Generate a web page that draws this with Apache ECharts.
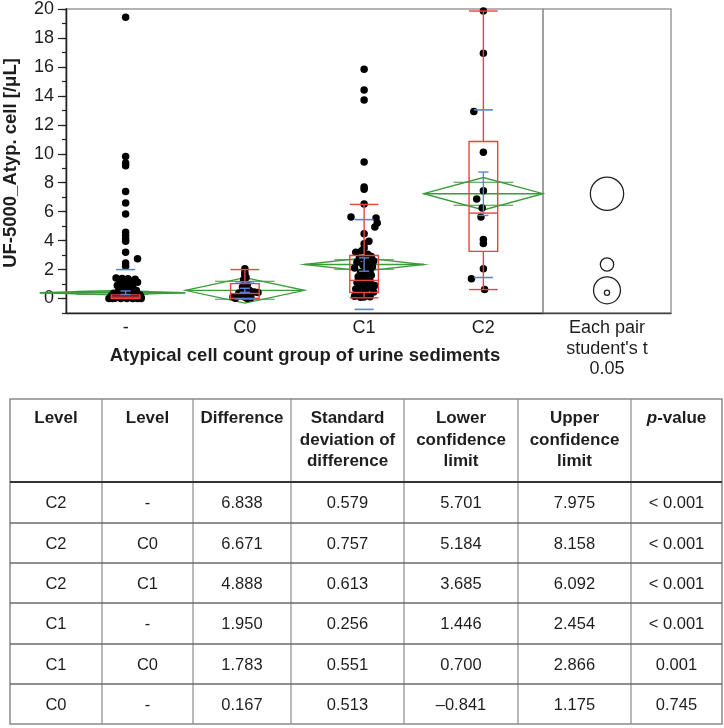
<!DOCTYPE html>
<html><head><meta charset="utf-8">
<script src="https://cdn.jsdelivr.net/npm/echarts@6/dist/echarts.min.js"></script>
<style>html,body{margin:0;padding:0;background:#fff}#c{width:724px;height:728px}</style>
</head><body><div id="c"></div>
<script>
// ---------- data ----------
const groups = ['-', 'C0', 'C1', 'C2'];
const yTickLabels = [0, 2, 4, 6, 8, 10, 12, 14, 16, 18, 20];

// individual observations (value) and horizontal jitter (category units)
const valsDash = [19.43, 9.81, 9.36, 9.17, 7.4, 6.6, 5.84, 4.57, 4.34, 4.11, 3.95, 3.19, 2.74, 2.46, 2.23,
  1.42, 1.38, 1.36, 1.33, 1.28, 1.2, 1.12, 1.05, 0.98, 0.9, 0.85, 0.78, 0.7, 0.62, 0.55, 0.5, 0.45, 0.4,
  0.36, 0.32, 0.28, 0.25, 0.2, 0.18, 0.15, 0.12, 0.1, 0.08, 0.05, 0.05, 0.02, 0, 0, 0, 0, 0, 0, 0];
const jitDash = [0, 0, 0, 0, 0, 0, 0, 0, 0, 0, 0, 0, 0.10, 0, 0,
  -0.08, -0.03, 0.02, 0.08, -0.05, 0.05, 0.10, -0.02, 0.03, -0.07, 0.0, 0.06, -0.03, 0.02, 0.09, -0.06, 0.0, 0.04,
  -0.10, 0.07, -0.02, 0.12, -0.12, 0.03, -0.06, 0.09, -0.02, 0.13, -0.13, 0.05, -0.09, 0.10, -0.04, 0.01, 0.06, -0.11, 0.13, -0.14];
const valsC0 = [2.05, 1.8, 1.6, 1.45, 1.3, 1.1, 0.95, 0.8, 0.65, 0.55, 0.45, 0.42, 0.38, 0.3, 0.2, 0.12, 0.08, 0.05, 0.02, 0];
const jitC0  = [0, 0, 0, 0.01, -0.01, 0, 0.02, -0.02, 0, 0.04, 0.08, 0.11, -0.05, 0.02, -0.03, -0.10, 0.0, 0.05, -0.08, 0.02];
const valsC1 = [15.84, 14.41, 13.72, 9.43, 7.7, 7.55, 6.53, 5.63, 5.56, 5.22, 4.94, 4.48, 3.95, 3.79, 3.49,
  3.3, 3.19, 3.05, 2.9, 2.8, 2.7, 2.6, 2.5, 2.42, 2.3, 2.2, 2.1, 2.0, 1.9, 1.8, 1.7, 1.6, 1.5, 1.4, 1.3, 1.2,
  1.1, 1.0, 0.9, 0.85, 0.75, 0.65, 0.55, 0.45, 0.35, 0.25, 0.15, 0.12, 0.1, 0.08];
const jitC1  = [0, 0, 0, 0, 0, 0, 0, -0.11, 0.10, 0.11, 0.09, 0, 0.04, 0, 0,
  -0.02, -0.07, 0.03, 0.06, -0.04, 0.01, 0.08, -0.06, 0.03, -0.01, 0.07, -0.08, 0.02, 0.05, -0.03, 0.0, 0.06, -0.05, 0.03, -0.01, 0.05,
  -0.06, 0.02, 0.09, -0.03, 0.06, -0.07, 0.01, 0.08, -0.04, 0.03, -0.08, 0.05, 0.0, -0.03];
const valsC2 = [19.86, 16.94, 12.92, 10.11, 7.45, 6.88, 6.26, 5.63, 4.07, 3.8, 2.05, 1.36, 0.62];
const jitC2  = [0, 0, -0.08, 0, 0, -0.056, -0.01, -0.02, 0, 0, 0, -0.10, 0.01];

// outlier box plot summaries
const boxQ1  = [0, 0, 0.42, 3.26];
const boxMed = [0.1, 0.35, 1.25, 5.9];
const boxQ3  = [0.25, 1.03, 2.97, 10.85];
const whiskLo = [0, 0, 0.05, 0.62];
const whiskHi = [0.25, 2.0, 6.5, 19.86];

// means, 95% CI half-width (mean diamonds / comparison circles), SD, SE
const means = [0.40, 0.567, 2.35, 7.238];
const ciHalf = [0.15, 0.88, 0.46, 1.12];
const circleR = [0.18, 0.93, 0.46, 1.15];
const diamondFrom = [-0.22, 1, 2, 3];
const diamondTo = [1, 2, 3, 4];
const sdHi = [2.0, 1.15, 5.45, 13.03];
const sdLo = [-1.2, -0.02, -0.75, 1.45];
const seHalf = [0.12, 0.14, 0.46, 1.5];

// table
const tHeader = [['Level'], ['Level'], ['Difference'], ['Standard', 'deviation of', 'difference'],
  ['Lower', 'confidence', 'limit'], ['Upper', 'confidence', 'limit'], ['{i|p}-value']];
const tLevel1 = ['C2', 'C2', 'C2', 'C1', 'C1', 'C0'];
const tLevel2 = ['-', 'C0', 'C1', '-', 'C0', '-'];
const tDiff = ['6.838', '6.671', '4.888', '1.950', '1.783', '0.167'];
const tSD = ['0.579', '0.757', '0.613', '0.256', '0.551', '0.513'];
const tLower = ['5.701', '5.184', '3.685', '1.446', '0.700', '\u20130.841'];
const tUpper = ['7.975', '8.158', '6.092', '2.454', '2.866', '1.175'];
const tP = ['< 0.001', '< 0.001', '< 0.001', '< 0.001', '0.001', '0.745'];

// ---------- styling ----------
const RED = '#e8443f', GREEN = '#3a9a3c', BLUE = '#5b84d0', TXT = '#1e1e1e';
const FONT = '"Liberation Sans", Arial, Helvetica, sans-serif';
const BOX_W = 0.24, SD_W = 0.16, CAP_W = 0.085;

const chart = echarts.init(document.getElementById('c'), null, {renderer: 'canvas'});

const pointData = [];
[[valsDash, jitDash], [valsC0, jitC0], [valsC1, jitC1], [valsC2, jitC2]].forEach(([v, j], gi) => {
  v.forEach((val, k) => pointData.push([gi + 0.5 + j[k], val]));
});

function seg(p1, p2, color, w) {
  return {type: 'line', shape: {x1: p1[0], y1: p1[1], x2: p2[0], y2: p2[1]}, style: {stroke: color, lineWidth: w}};
}

const boxData = groups.map((g, i) => [i + 0.5, boxQ1[i], boxMed[i], boxQ3[i], whiskLo[i], whiskHi[i]]);
const diamondData = groups.map((g, i) => [diamondFrom[i], diamondTo[i], means[i], ciHalf[i]]);
const blueData = groups.map((g, i) => [i + 0.5, means[i], sdLo[i], sdHi[i], seHalf[i]]);
const circleData = groups.map((g, i) => [0.5, means[i], circleR[i]]);

// table graphics
const colX = [10, 102, 193, 291, 404, 518, 631, 722];
const rowY = [399, 482, 523, 563, 603, 644, 684, 724];
const tableEls = [];
tableEls.push({type: 'rect', shape: {x: colX[0], y: rowY[0], width: colX[7] - colX[0], height: rowY[7] - rowY[0]},
  style: {fill: null, stroke: '#8a8a8a', lineWidth: 1.5}});
for (let c = 1; c < 7; c++) tableEls.push({type: 'line', shape: {x1: colX[c], y1: rowY[0], x2: colX[c], y2: rowY[7]}, style: {stroke: '#8a8a8a', lineWidth: 1.2}});
for (let r = 1; r < 7; r++) tableEls.push({type: 'line', shape: {x1: colX[0], y1: rowY[r], x2: colX[7], y2: rowY[r]},
  style: {stroke: r === 1 ? '#333' : '#6a6a6a', lineWidth: r === 1 ? 2.2 : 1.5}});
tHeader.forEach((lines, c) => {
  tableEls.push({type: 'text', x: (colX[c] + colX[c + 1]) / 2, y: 408,
    style: {text: lines.join('\n'), fill: TXT, fontFamily: FONT, fontSize: 17, fontWeight: 'bold',
      align: 'center', verticalAlign: 'top', textAlign: 'center', textVerticalAlign: 'top', lineHeight: 21.5,
      rich: {i: {fontStyle: 'italic', fontWeight: 'bold', fontSize: 17, fontFamily: FONT, fill: TXT}}}});
});
const tCols = [tLevel1, tLevel2, tDiff, tSD, tLower, tUpper, tP];
tCols.forEach((col, c) => col.forEach((txt, r) => {
  tableEls.push({type: 'text', x: (colX[c] + colX[c + 1]) / 2, y: (rowY[r + 1] + rowY[r + 2]) / 2 + 1,
    style: {text: txt, fill: TXT, fontFamily: FONT, fontSize: 16.5, align: 'center', verticalAlign: 'middle',
      textAlign: 'center', textVerticalAlign: 'middle'}});
}));

// titles
const titleEls = [
  {type: 'text', x: 11, y: 163, rotation: Math.PI / 2,
    style: {text: 'UF-5000_Atyp. cell [/\u03bcL]', fill: TXT, fontFamily: FONT, fontSize: 18.5, fontWeight: 'bold',
      align: 'center', verticalAlign: 'middle', textAlign: 'center', textVerticalAlign: 'middle'}},
  {type: 'text', x: 305, y: 356,
    style: {text: 'Atypical cell count group of urine sediments', fill: TXT, fontFamily: FONT, fontSize: 18.5, fontWeight: 'bold',
      align: 'center', verticalAlign: 'middle', textAlign: 'center', textVerticalAlign: 'middle'}},
  {type: 'text', x: 607, y: 318,
    style: {text: "Each pair\nstudent's t\n0.05", fill: TXT, fontFamily: FONT, fontSize: 18, lineHeight: 20.5,
      align: 'center', verticalAlign: 'top', textAlign: 'center', textVerticalAlign: 'top'}}
];

const option = {
  animation: false,
  backgroundColor: '#fff',
  grid: [
    {left: 66, top: 9, width: 477, height: 304, show: true, borderColor: '#9a9a9a', borderWidth: 1.5, backgroundColor: 'transparent'},
    {left: 543, top: 9, width: 128, height: 304, show: true, borderColor: '#9a9a9a', borderWidth: 1.5, backgroundColor: 'transparent'}
  ],
  xAxis: [
    {gridIndex: 0, type: 'category', data: groups, boundaryGap: true, position: 'bottom',
      axisLine: {onZero: false, lineStyle: {color: '#222', width: 1.3}},
      axisTick: {length: 7, lineStyle: {color: '#222', width: 1.3}},
      axisLabel: {color: TXT, fontSize: 18, fontFamily: FONT, margin: 6}},
    {gridIndex: 0, type: 'value', min: 0, max: 4, show: false, axisLine: {onZero: false}},
    {gridIndex: 1, type: 'value', min: 0, max: 1, position: 'bottom',
      axisLine: {onZero: false, lineStyle: {color: '#444', width: 1.3}},
      axisTick: {show: false}, axisLabel: {show: false}, splitLine: {show: false}}
  ],
  yAxis: [
    {gridIndex: 0, type: 'value', position: 'left', min: -1, max: 20, interval: 1,
      axisLine: {show: true, onZero: false, lineStyle: {color: '#222', width: 1.3}},
      axisTick: {show: true, length: 4, lineStyle: {color: '#222', width: 1.2}},
      axisLabel: {show: false}, splitLine: {show: false}},
    {gridIndex: 0, type: 'value', position: 'left', offset: 0, min: -1, max: 20,
      axisLine: {show: true, onZero: false, lineStyle: {color: '#222', width: 1.3}},
      axisTick: {show: true, length: 8, customValues: yTickLabels, lineStyle: {color: '#222', width: 1.2}},
      axisLabel: {show: true, customValues: yTickLabels, color: TXT, fontSize: 18, fontFamily: FONT, margin: 12},
      splitLine: {show: false}},
    {gridIndex: 1, type: 'value', min: -1, max: 20, show: false}
  ],
  series: [
    { // mean diamonds
      type: 'custom', xAxisIndex: 1, yAxisIndex: 0, clip: false, z: 2, data: diamondData,
      renderItem: (params, api) => {
        const l = api.value(0), r = api.value(1), m = api.value(2), h = api.value(3);
        const mid = (l + r) / 2, o = h / Math.SQRT2, q = (r - l) / 4;
        const L = api.coord([l, m]), R = api.coord([r, m]);
        const T = api.coord([mid, m + h]), B = api.coord([mid, m - h]);
        return {type: 'group', children: [
          {type: 'polygon', shape: {points: [L, T, R, B]}, style: {fill: null, stroke: GREEN, lineWidth: 1.3}},
          seg(L, R, GREEN, 1.3),
          seg(api.coord([mid - q, m + o]), api.coord([mid + q, m + o]), GREEN, 1.1),
          seg(api.coord([mid - q, m - o]), api.coord([mid + q, m - o]), GREEN, 1.1)
        ]};
      }
    },
    { // points
      type: 'scatter', xAxisIndex: 1, yAxisIndex: 0, z: 3, data: pointData, symbolSize: 7.5,
      itemStyle: {color: '#000', opacity: 1}, silent: true
    },
    { // box plots
      type: 'custom', xAxisIndex: 1, yAxisIndex: 0, z: 4, data: boxData,
      renderItem: (params, api) => {
        const x = api.value(0), q1 = api.value(1), md = api.value(2), q3 = api.value(3), wl = api.value(4), wh = api.value(5);
        const a = x - BOX_W / 2, b = x + BOX_W / 2;
        const c = [];
        const p1 = api.coord([a, q3]), p2 = api.coord([b, q1]);
        c.push({type: 'rect', shape: {x: p1[0], y: p1[1], width: p2[0] - p1[0], height: p2[1] - p1[1]},
          style: {fill: null, stroke: RED, lineWidth: 1.4}});
        c.push(seg(api.coord([a, md]), api.coord([b, md]), RED, 1.4));
        if (wh > q3) {
          c.push(seg(api.coord([x, q3]), api.coord([x, wh]), RED, 1.4));
          c.push(seg(api.coord([a, wh]), api.coord([b, wh]), RED, 1.4));
        }
        if (wl < q1) {
          c.push(seg(api.coord([x, q1]), api.coord([x, wl]), RED, 1.4));
          c.push(seg(api.coord([a, wl]), api.coord([b, wl]), RED, 1.4));
        } else if (params.dataIndex > 0) {
          c.push(seg(api.coord([a, wl]), api.coord([b, wl]), RED, 1.4));
        }
        return {type: 'group', children: c};
      }
    },
    { // SD lines and mean error bars
      type: 'custom', xAxisIndex: 1, yAxisIndex: 0, z: 5, data: blueData,
      renderItem: (params, api) => {
        const x = api.value(0), m = api.value(1), lo = api.value(2), hi = api.value(3), se = api.value(4);
        const c = [];
        c.push(seg(api.coord([x - SD_W / 2, hi]), api.coord([x + SD_W / 2, hi]), BLUE, 1.6));
        if (lo >= -1) c.push(seg(api.coord([x - SD_W / 2, lo]), api.coord([x + SD_W / 2, lo]), BLUE, 1.6));
        c.push(seg(api.coord([x, m - se]), api.coord([x, m + se]), BLUE, 1.4));
        c.push(seg(api.coord([x - CAP_W / 2, m + se]), api.coord([x + CAP_W / 2, m + se]), BLUE, 1.4));
        c.push(seg(api.coord([x - CAP_W / 2, m - se]), api.coord([x + CAP_W / 2, m - se]), BLUE, 1.4));
        return {type: 'group', children: c};
      }
    },
    { // comparison circles
      type: 'custom', xAxisIndex: 2, yAxisIndex: 2, z: 3, data: circleData,
      renderItem: (params, api) => {
        const c = api.coord([api.value(0), api.value(1)]);
        const r = Math.abs(api.coord([api.value(0), api.value(1) + api.value(2)])[1] - c[1]);
        return {type: 'circle', shape: {cx: c[0], cy: c[1], r: r}, style: {fill: null, stroke: '#222', lineWidth: 1.3}};
      }
    }
  ],
  graphic: {elements: titleEls.concat(tableEls)}
};
chart.setOption(option);
</script>
</body></html>
